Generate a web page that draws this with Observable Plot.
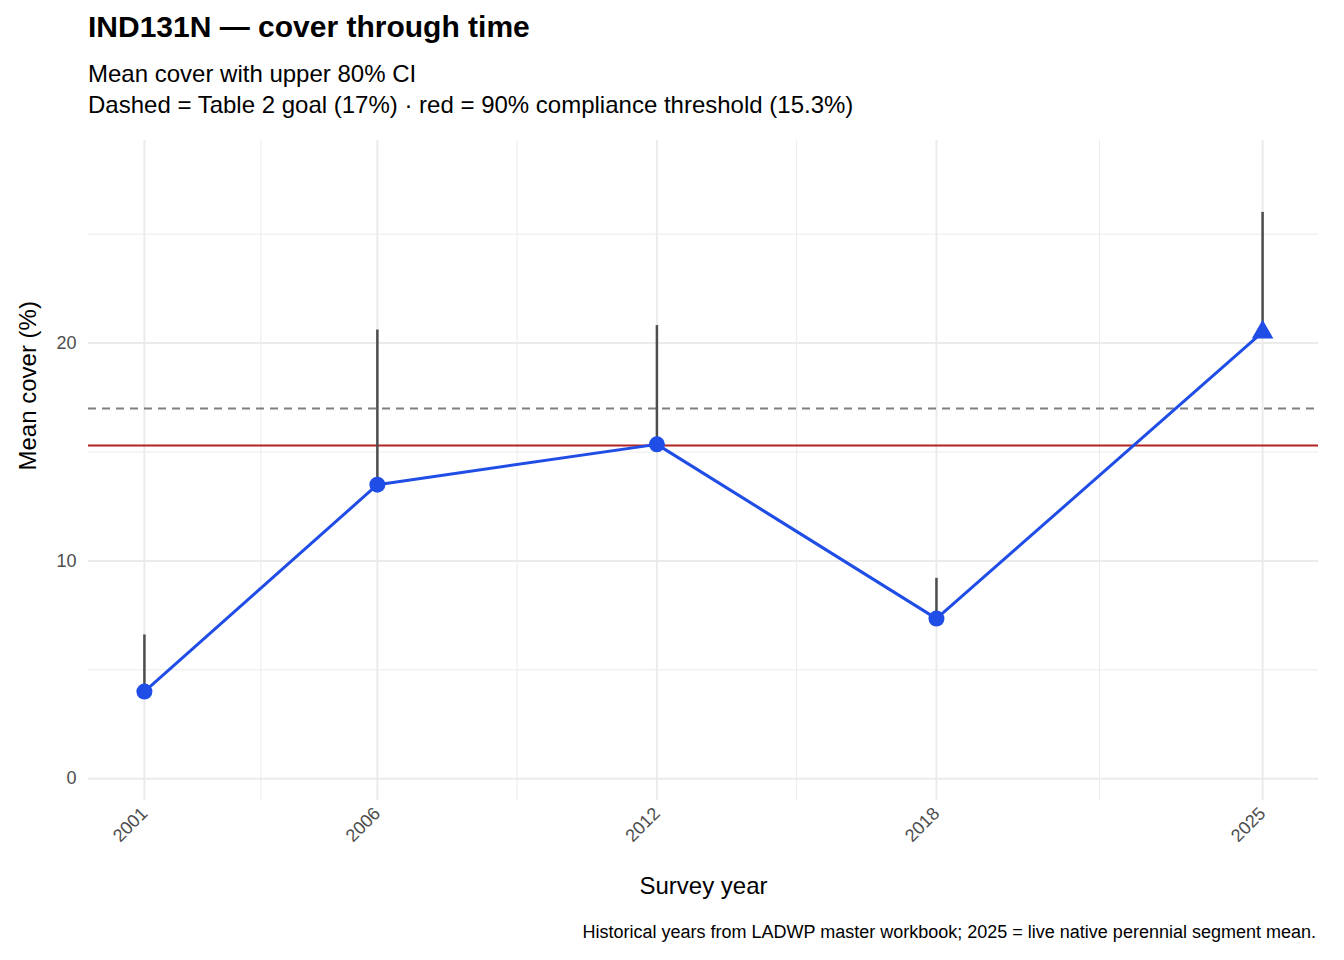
<!DOCTYPE html>
<html><head><meta charset="utf-8">
<script src="https://cdn.jsdelivr.net/npm/d3@7"></script>
<script src="https://cdn.jsdelivr.net/npm/@observablehq/plot@0.6"></script>
<style>
body{margin:0;background:#fff;font-family:"Liberation Sans",Arial,sans-serif;width:1344px;}
#t{position:absolute;left:88px;top:10px;font-size:30px;font-weight:bold;}
#s{position:absolute;left:88px;top:58px;font-size:24px;line-height:31px;}
#c{position:absolute;right:28px;top:922px;font-size:18px;}
#chart{position:absolute;left:0;top:125px;}
#chart g[aria-label="x-axis tick label"], #chart g[aria-label="y-axis tick label"]{font-size:18px;fill:#4d4d4d;}
</style></head><body>
<div id="t">IND131N — cover through time</div>
<div id="s">Mean cover with upper 80% CI<br>Dashed = Table 2 goal (17%) · red = 90% compliance threshold (15.3%)</div>
<div id="chart"></div>
<div id="c">Historical years from LADWP master workbook; 2025 = live native perennial segment mean.</div>
<script>
const years=[2001,2006,2012,2018,2025];
const means=[4.0,13.5,15.35,7.35,20.5];
const uppers=[6.6,20.6,20.8,9.2,26.0];
const kinds=["circle","circle","circle","circle","triangle"];
const goal=17, threshold=15.3;
const majorY=[0,10,20], minorY=[5,15,25];
const minorX=[2003.5,2009,2015,2021.5];
const data=years.map((y,i)=>({year:y,mean:means[i],upper:uppers[i],kind:kinds[i]}));
const grid="#ebebeb";
const p=Plot.plot({
  width:1344,height:790,marginLeft:88,marginRight:26,marginTop:15,marginBottom:115,
  style:{fontFamily:"Liberation Sans, Arial, sans-serif",fontSize:"18px",color:"#4d4d4d"},
  x:{domain:[1999.8,2026.2],ticks:years,tickFormat:d=>String(d),tickSize:0,tickRotate:-45,tickPadding:10,label:null},
  y:{domain:[-1.0,29.3],ticks:majorY,tickSize:0,label:null,tickPadding:12},
  marks:[
    Plot.ruleY(minorY,{stroke:grid,strokeWidth:1}),
    Plot.ruleX(minorX,{stroke:grid,strokeWidth:1}),
    Plot.ruleY(majorY,{stroke:grid,strokeWidth:2}),
    Plot.ruleX(years,{stroke:grid,strokeWidth:2}),
    Plot.ruleY([goal],{stroke:"#7f7f7f",strokeWidth:2,strokeDasharray:"8,6"}),
    Plot.ruleY([threshold],{stroke:"#b22222",strokeWidth:2}),
    Plot.ruleX(data,{x:"year",y1:"mean",y2:"upper",stroke:"#4d4d4d",strokeWidth:2.5}),
    Plot.line(data,{x:"year",y:"mean",stroke:"#1f4de6",strokeWidth:3}),
    Plot.dot(data,{x:"year",y:"mean",symbol:"kind",fill:"#1f4de6",r:8}),
    Plot.text(["Survey year"],{frameAnchor:"bottom",dy:93,fontSize:24,fill:"#000"}),
    Plot.text(["Mean cover (%)"],{frameAnchor:"left",dx:-60,rotate:-90,fontSize:24,fill:"#000"})
  ]
});
document.getElementById("chart").appendChild(p);
</script></body></html>
